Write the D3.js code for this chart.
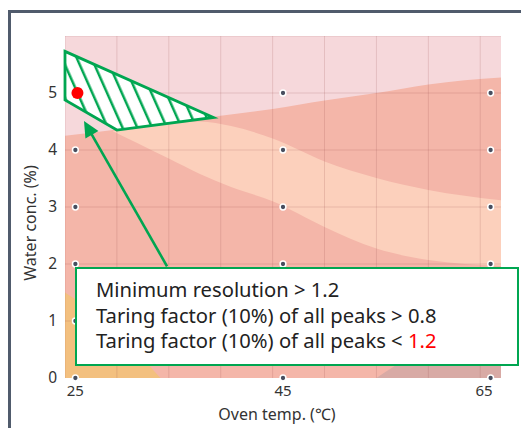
<!DOCTYPE html>
<html><head><meta charset="utf-8">
<script src="https://cdn.jsdelivr.net/npm/d3@7"></script>
<style>
html,body{margin:0;padding:0;background:#fff;}
svg{display:block;font-family:"Noto Sans",sans-serif;}
</style></head>
<body><svg id="c" width="521" height="428"></svg>
<script>
// ---- data ----
const xTicks = [25, 45, 65];
const yTicks = [0, 1, 2, 3, 4, 5];
const gridX = [24, 29, 34, 39, 44, 49, 54, 59, 64];
const gridY = [1, 2, 3, 4, 5, 6];
const designPoints = [[25,0],[25,1],[25,2],[25,3],[25,4],
  [45,0],[45,1],[45,2],[45,3],[45,4],[45,5],
  [65,0],[65,1],[65,2],[65,3],[65,4],[65,5]];
const optimumPoint = [25.2, 5.0];
// contour boundaries
const pinkX = [24, 29, 34, 39, 44, 49, 54, 59, 66];
const pinkY = [4.25, 4.36, 4.47, 4.6, 4.72, 4.87, 5.0, 5.15, 5.27];
const peachX = [28.6, 31, 34, 37, 40, 44, 49, 54, 59, 66];
const peachTop = [4.33, 4.4, 4.46, 4.5, 4.42, 4.2, 3.8, 3.51, 3.3, 3.12];
const peachBottom = [4.33, 4.12, 3.85, 3.58, 3.35, 3.1, 2.65, 2.27, 2.07, 1.97];
const orangeX = [24, 25, 27, 29, 31, 32, 33.2];
const orangeY = [1.5, 1.38, 1.12, 0.82, 0.47, 0.24, 0];
const duskyX = [54, 55.5, 57, 60, 63, 66];
const duskyY = [0, 0.18, 0.35, 0.55, 0.7, 0.78];
// feasible region (hatched)
const regionX = [24, 38.3, 29, 24];
const regionY = [5.73, 4.57, 4.35, 4.88];
// annotation arrow (tail -> tip)
const arrowX = [33.83, 25.83];
const arrowY = [1.96, 4.51];
const boxLines = ["Minimum resolution > 1.2", "Taring factor (10%) of all peaks > 0.8", "Taring factor (10%) of all peaks < "];
const boxRed = "1.2";
const xLabel = "Oven temp. (℃)";
const yLabel = "Water conc. (%)";

// ---- drawing ----
const svg = d3.select("#c");
const L = 65, R = 501, T = 36, B = 378;
const x = d3.scaleLinear().domain([24, 66]).range([L, R]);
const y = d3.scaleLinear().domain([0, 6]).range([B, T]);
const green = "#00a651";
const txt = "#333";

// frame
svg.append("rect").attr("x", 9.5).attr("y", 11.5).attr("width", 700).attr("height", 700)
  .attr("fill", "none").attr("stroke", "#505b6c").attr("stroke-width", 3);

const defs = svg.append("defs");
defs.append("clipPath").attr("id", "pc").append("rect")
  .attr("x", L).attr("y", T).attr("width", R - L).attr("height", B - T);
const pat = defs.append("pattern").attr("id", "hatch").attr("patternUnits", "userSpaceOnUse")
  .attr("width", 13.5).attr("height", 13.5).attr("patternTransform", "rotate(-24)");
pat.append("rect").attr("width", 13.5).attr("height", 13.5).attr("fill", "#fff");
pat.append("line").attr("x1", 6).attr("x2", 6).attr("y1", 0).attr("y2", 13.5)
  .attr("stroke", green).attr("stroke-width", 2.5);

const g = svg.append("g").attr("clip-path", "url(#pc)");
g.append("rect").attr("x", L).attr("y", T).attr("width", R - L).attr("height", B - T).attr("fill", "#f4b6a9");

const curve = d3.curveMonotoneX;
g.append("path").datum(pinkX.map((v, i) => [v, pinkY[i]]))
  .attr("fill", "#f6d8db")
  .attr("d", d3.area().curve(curve).x(d => x(d[0])).y0(y(6.2)).y1(d => y(d[1])));
g.append("path").datum(peachX.map((v, i) => [v, peachTop[i], peachBottom[i]]))
  .attr("fill", "#fcd0bc")
  .attr("d", d3.area().curve(curve).x(d => x(d[0])).y0(d => y(d[2])).y1(d => y(d[1])));
g.append("path").datum(orangeX.map((v, i) => [v, orangeY[i]]))
  .attr("fill", "#f3c07f")
  .attr("d", d3.area().curve(curve).x(d => x(d[0])).y0(y(-0.2)).y1(d => y(d[1])));
g.append("path").datum(duskyX.map((v, i) => [v, duskyY[i]]))
  .attr("fill", "#d8aaa5")
  .attr("d", d3.area().curve(curve).x(d => x(d[0])).y0(y(-0.2)).y1(d => y(d[1])));

// grid
g.selectAll(".gx").data(gridX).join("line").attr("x1", d => x(d)).attr("x2", d => x(d))
  .attr("y1", T).attr("y2", B).attr("stroke", "rgba(150,70,70,0.18)").attr("stroke-width", 1);
g.selectAll(".gy").data(gridY).join("line").attr("y1", d => y(d)).attr("y2", d => y(d))
  .attr("x1", L).attr("x2", R).attr("stroke", "rgba(150,70,70,0.18)").attr("stroke-width", 1);

// design points
svg.selectAll(".pt").data(designPoints).join("circle")
  .attr("cx", d => x(d[0])).attr("cy", d => y(d[1])).attr("r", 2.9)
  .attr("fill", "#474e5f").attr("stroke", "#fff").attr("stroke-width", 1.5);

// hatched region
svg.append("path").datum(regionX.map((v, i) => [v, regionY[i]]))
  .attr("d", d3.line().x(d => x(d[0])).y(d => y(d[1])).curve(d3.curveLinearClosed))
  .attr("fill", "url(#hatch)").attr("stroke", green).attr("stroke-width", 2.8)
  .attr("stroke-linejoin", "miter");

svg.append("circle").attr("cx", x(optimumPoint[0])).attr("cy", y(optimumPoint[1]))
  .attr("r", 6).attr("fill", "#ff0000");

// arrow
const ax0 = x(arrowX[0]), ay0 = y(arrowY[0]), ax1 = x(arrowX[1]), ay1 = y(arrowY[1]);
const len = Math.hypot(ax1 - ax0, ay1 - ay0), ux = (ax1 - ax0) / len, uy = (ay1 - ay0) / len;
const hl = 16, hw = 7.5;
const bx = ax1 - ux * hl, by = ay1 - uy * hl;
svg.append("line").attr("x1", ax0).attr("y1", ay0).attr("x2", bx + ux * 2).attr("y2", by + uy * 2)
  .attr("stroke", green).attr("stroke-width", 2.6);
svg.append("path").attr("fill", green)
  .attr("d", `M${ax1},${ay1}L${bx - uy * hw},${by + ux * hw}L${bx + uy * hw},${by - ux * hw}Z`);

// axes labels
svg.selectAll(".xt").data(xTicks).join("text")
  .attr("x", (d, i) => x(d) + (i === xTicks.length - 1 ? 2 : 0)).attr("y", 396)
  .attr("text-anchor", (d, i) => i === xTicks.length - 1 ? "end" : "middle")
  .attr("font-size", 15).attr("fill", txt).text(d => d);
svg.selectAll(".yt").data(yTicks).join("text")
  .attr("x", 57).attr("y", d => y(d)).attr("dy", "0.35em").attr("text-anchor", "end")
  .attr("font-size", 15.5).attr("fill", txt).text(d => d);
svg.append("text").attr("x", 277).attr("y", 420).attr("text-anchor", "middle")
  .attr("font-size", 16).attr("fill", txt).text(xLabel);
svg.append("text").attr("transform", "translate(36,223) rotate(-90)").attr("text-anchor", "middle")
  .attr("font-size", 16).attr("fill", txt).text(yLabel);

// annotation box
svg.append("rect").attr("x", 76).attr("y", 268).attr("width", 442).attr("height", 97)
  .attr("fill", "#fff").attr("stroke", green).attr("stroke-width", 2);
const tb = svg.append("g").attr("font-size", 20.2).attr("fill", "#222");
boxLines.forEach((s, i) => {
  const t = tb.append("text").attr("x", 96).attr("y", 297 + i * 25.5).text(s);
  if (i === boxLines.length - 1) t.append("tspan").attr("fill", "#ff0000").text(boxRed);
});
</script></body></html>
